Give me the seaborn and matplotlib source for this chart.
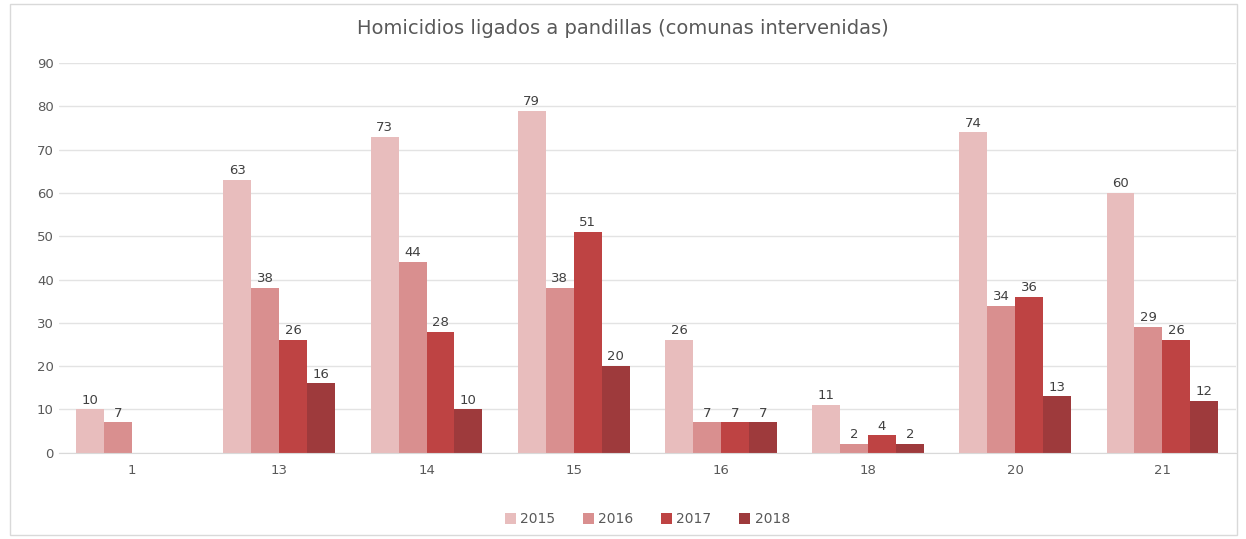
import numpy as np
import pandas as pd
import matplotlib
matplotlib.use('Agg')
import matplotlib.pyplot as plt
import seaborn as sns

comunas = ['1', '13', '14', '15', '16', '18', '20', '21']
years = ['2015', '2016', '2017', '2018']
v2015 = [10, 63, 73, 79, 26, 11, 74, 60]
v2016 = [7, 38, 44, 38, 7, 2, 34, 29]
v2017 = [np.nan, 26, 28, 51, 7, 4, 36, 26]
v2018 = [np.nan, 16, 10, 20, 7, 2, 13, 12]
colors = ['#E8BDBD', '#D98F8F', '#BE4343', '#9E3A3C']

rows = []
for y, vals in zip(years, [v2015, v2016, v2017, v2018]):
    for c, v in zip(comunas, vals):
        rows.append({'comuna': c, 'year': y, 'value': v})
df = pd.DataFrame(rows)

sns.set_style('white')
plt.rcParams['font.family'] = ['DejaVu Sans']

fig = plt.figure(figsize=(12.46, 5.39), dpi=100)
ax = fig.add_axes([0.047, 0.16, 0.945, 0.723])

sns.barplot(data=df, x='comuna', y='value', hue='year', order=comunas,
            hue_order=years, palette=colors, width=0.76, saturation=1,
            linewidth=0, ax=ax, legend=True)

for cont in ax.containers:
    ax.bar_label(cont, fmt='%.0f', padding=2, fontsize=9.5, color='#404040')

ax.set_ylim(0, 90)
ax.set_yticks(range(0, 91, 10))
ax.grid(axis='y', color='#E3E3E3', linewidth=1)
ax.set_axisbelow(True)
for s in ax.spines.values():
    s.set_visible(False)
ax.spines['bottom'].set_visible(True)
ax.spines['bottom'].set_color('#D9D9D9')
ax.tick_params(axis='both', length=0, labelsize=9.5, labelcolor='#595959')
ax.tick_params(axis='x', pad=8)
ax.set_xlabel('')
ax.set_ylabel('')

fig.suptitle('Homicidios ligados a pandillas (comunas intervenidas)',
             y=0.965, fontsize=14, color='#595959')

ax.legend(loc='upper center', bbox_to_anchor=(0.5, -0.12), ncol=4,
          frameon=False, fontsize=10, handlelength=0.8, handleheight=0.8,
          columnspacing=2.0, handletextpad=0.3, labelcolor='#595959')

border = plt.Rectangle((0.008, 0.008), 0.985, 0.985, transform=fig.transFigure,
                       fill=False, edgecolor='#D9D9D9', linewidth=1)
fig.add_artist(border)

fig.savefig('out.png', dpi=100)
